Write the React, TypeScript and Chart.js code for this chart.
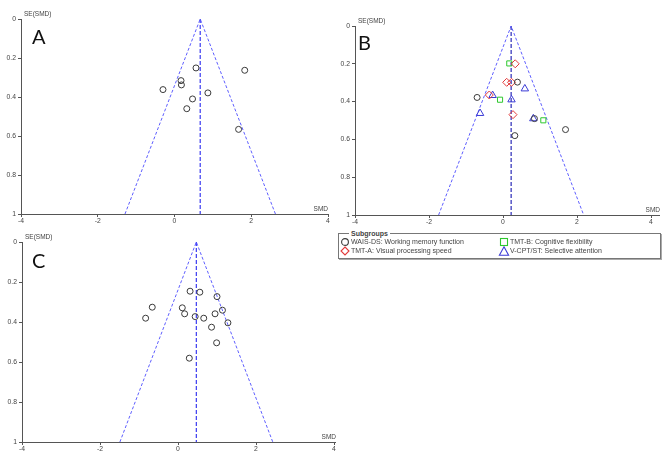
import React, { useEffect, useRef } from "react";
import { Chart, registerables } from "chart.js";

Chart.register(...registerables);

// ---------- data ----------
const xTickValues = [-4, -2, 0, 2, 4];
const yTickValues = [0, 0.2, 0.4, 0.6, 0.8, 1];
const yTickLabels = ["0", "0.2", "0.4", "0.6", "0.8", "1"];
const zCrit = 1.96;

// Panel A (single group, circles)
const aPooled = 0.67;
const aSmd = [0.56, 1.83, 0.17, 0.18, -0.3, 0.87, 0.47, 0.32, 1.67];
const aSe = [0.251, 0.263, 0.316, 0.338, 0.362, 0.379, 0.41, 0.46, 0.566];

// Panel B (subgroups)
const bPooled = 0.22;
const bWaisSmd = [0.39, -0.7, 0.85, 1.69, 0.32];
const bWaisSe = [0.297, 0.378, 0.49, 0.548, 0.58];
const bTmtASmd = [0.33, 0.1, 0.23, -0.37, 0.27];
const bTmtASe = [0.2, 0.298, 0.298, 0.365, 0.469];
const bTmtBSmd = [0.17, -0.08, 1.09];
const bTmtBSe = [0.198, 0.39, 0.499];
const bCptSmd = [0.59, -0.28, 0.23, -0.62, 0.82];
const bCptSe = [0.332, 0.367, 0.39, 0.462, 0.49];

// Panel C (single group, circles)
const cPooled = 0.47;
const cSmd = [0.31, 0.56, 1.0, -0.66, 0.11, 1.14, 0.17, 0.95, -0.83, 0.44, 0.66, 1.28, 0.86, 0.99, 0.29];
const cSe = [0.246, 0.251, 0.273, 0.326, 0.329, 0.341, 0.359, 0.359, 0.381, 0.373, 0.381, 0.404, 0.426, 0.504, 0.581];

const subgroupLabels = [
  "WAIS-DS: Working memory function",
  "TMT-A: Visual processing speed",
  "TMT-B: Cognitive flexibility",
  "V-CPT/ST: Selective attention",
];

// ---------- styles ----------
const FONT = "'Liberation Sans', Arial, sans-serif";
const AXIS_COLOR = "#555";
const TEXT_COLOR = "#444";
const FUNNEL_COLOR = "rgba(85,85,255,0.95)";
const CIRCLE_COLOR = "#3a3a3a";
const DIAMOND_COLOR = "#e23a3a";
const SQUARE_COLOR = "#2ec82e";
const TRIANGLE_COLOR = "#3b3bd6";

const toPts = (xs: number[], ys: number[]) => xs.map((x, i) => ({ x, y: ys[i] }));

function funnelDatasets(pooled: number, centerColor: string) {
  return [
    {
      type: "line" as const,
      data: [{ x: pooled - zCrit, y: 1 }, { x: pooled, y: 0 }, { x: pooled + zCrit, y: 1 }],
      borderColor: FUNNEL_COLOR,
      borderWidth: 1,
      borderDash: [3, 2],
      pointRadius: 0,
      fill: false,
      showLine: true,
      order: 10,
    },
    {
      type: "line" as const,
      data: [{ x: pooled, y: 0 }, { x: pooled, y: 1 }],
      borderColor: centerColor,
      borderWidth: 1.2,
      borderDash: [4, 2],
      pointRadius: 0,
      fill: false,
      showLine: true,
      order: 10,
    },
  ];
}

function markerDataset(pts: { x: number; y: number }[], style: string, color: string, radius: number) {
  return {
    type: "scatter" as const,
    data: pts,
    pointStyle: style,
    pointRadius: radius,
    pointHoverRadius: radius,
    pointBorderColor: color,
    pointBackgroundColor: "rgba(0,0,0,0)",
    pointBorderWidth: 1,
    showLine: false,
    order: 1,
  };
}

const decorPlugin = {
  id: "panelDecor",
  afterDraw(chart: any, _args: any, opts: any) {
    const { ctx, chartArea } = chart;
    const { left, right, top, bottom } = chartArea;
    ctx.save();
    if (opts.axisExtend) {
      ctx.strokeStyle = AXIS_COLOR;
      ctx.lineWidth = 1;
      ctx.beginPath();
      ctx.moveTo(right, Math.round(bottom) + 0.5);
      ctx.lineTo(right + opts.axisExtend, Math.round(bottom) + 0.5);
      ctx.stroke();
    }
    ctx.fillStyle = TEXT_COLOR;
    ctx.font = `6.5px ${FONT}`;
    ctx.textBaseline = "middle";
    ctx.textAlign = "left";
    ctx.fillText("SE(SMD)", left + 3, top - 5);
    ctx.textAlign = "right";
    ctx.textBaseline = "alphabetic";
    ctx.fillText("SMD", right + (opts.smdOffset || 0), bottom - 3);
    ctx.fillStyle = "#111";
    ctx.font = `20px Lato, 'Open Sans', sans-serif`;
    ctx.textAlign = "left";
    ctx.textBaseline = "alphabetic";
    ctx.fillText(opts.letter, left + opts.letterDx, top + opts.letterDy);
    ctx.restore();
  },
};

type PanelProps = {
  box: { left: number; top: number; width: number; height: number };
  area: { L: number; T: number; R: number; B: number };
  datasets: any[];
  letter: string;
  letterDx: number;
  letterDy: number;
  smdOffset: number;
  axisExtend: number;
};

const Y_W = 21;
const X_H = 12;

function Panel(p: PanelProps) {
  const ref = useRef<HTMLCanvasElement | null>(null);
  useEffect(() => {
    if (!ref.current) return;
    const { box, area } = p;
    const padding = {
      left: area.L - box.left - Y_W,
      top: area.T - box.top,
      right: box.left + box.width - area.R,
      bottom: box.top + box.height - area.B - X_H,
    };
    const chart = new Chart(ref.current, {
      type: "scatter",
      data: { datasets: p.datasets },
      plugins: [decorPlugin],
      options: {
        animation: false,
        responsive: false,
        maintainAspectRatio: false,
        layout: { padding },
        plugins: {
          legend: { display: false },
          tooltip: { enabled: false },
          panelDecor: {
            letter: p.letter,
            letterDx: p.letterDx,
            letterDy: p.letterDy,
            smdOffset: p.smdOffset,
            axisExtend: p.axisExtend,
          },
        } as any,
        scales: {
          x: {
            type: "linear",
            min: -4,
            max: 4,
            afterFit: (s: any) => {
              s.height = X_H;
            },
            afterBuildTicks: (s: any) => {
              s.ticks = xTickValues.map((v) => ({ value: v }));
            },
            ticks: {
              color: TEXT_COLOR,
              font: { family: FONT, size: 6.8 },
              padding: 0,
              maxRotation: 0,
              autoSkip: false,
              callback: (v: any) => String(v),
            },
            grid: { drawOnChartArea: false, drawTicks: true, tickLength: 3, color: AXIS_COLOR },
            border: { display: true, color: AXIS_COLOR, width: 1 },
          },
          y: {
            type: "linear",
            min: 0,
            max: 1,
            reverse: true,
            afterFit: (s: any) => {
              s.width = Y_W;
            },
            afterBuildTicks: (s: any) => {
              s.ticks = yTickValues.map((v) => ({ value: v }));
            },
            ticks: {
              color: TEXT_COLOR,
              font: { family: FONT, size: 6.8 },
              padding: 2,
              autoSkip: false,
              callback: (v: any) => {
                const i = yTickValues.findIndex((t) => Math.abs(t - v) < 1e-9);
                return i >= 0 ? yTickLabels[i] : "";
              },
            },
            grid: { drawOnChartArea: false, drawTicks: true, tickLength: 3, color: AXIS_COLOR },
            border: { display: true, color: AXIS_COLOR, width: 1 },
          },
        },
      } as any,
    });
    return () => chart.destroy();
  }, []);
  const { box } = p;
  return (
    <canvas
      ref={ref}
      width={box.width}
      height={box.height}
      style={{ position: "absolute", left: box.left, top: box.top, width: box.width, height: box.height }}
    />
  );
}

function Marker({ kind, color }: { kind: string; color: string }) {
  const common = { fill: "none", stroke: color, strokeWidth: 1.1 };
  let shape: any = null;
  if (kind === "circle") shape = <circle cx={5} cy={5} r={3.4} {...common} />;
  if (kind === "diamond") shape = <polygon points="5,1 9,5 5,9 1,5" {...common} />;
  if (kind === "square") shape = <rect x={1.5} y={1.5} width={7} height={7} {...common} />;
  if (kind === "triangle") shape = <polygon points="5,0.8 9.6,9.3 0.4,9.3" {...common} />;
  return (
    <svg width={10} height={10} style={{ position: "absolute", left: -5, top: -5, overflow: "visible" }}>
      {shape}
    </svg>
  );
}

function LegendItem({ x, y, kind, color, label }: { x: number; y: number; kind: string; color: string; label: string }) {
  return (
    <>
      <div style={{ position: "absolute", left: x, top: y, width: 0, height: 0 }}>
        <Marker kind={kind} color={color} />
      </div>
      <div
        style={{
          position: "absolute",
          left: x + 6.5,
          top: y - 5,
          height: 10,
          lineHeight: "10px",
          fontFamily: FONT,
          fontSize: 7,
          color: TEXT_COLOR,
          whiteSpace: "nowrap",
        }}
      >
        {label}
      </div>
    </>
  );
}

export default function App() {
  const datasetsA = [...funnelDatasets(aPooled, "#3a3af0"), markerDataset(toPts(aSmd, aSe), "circle", CIRCLE_COLOR, 3)];
  const datasetsB = [
    ...funnelDatasets(bPooled, "#2a2ab8"),
    markerDataset(toPts(bWaisSmd, bWaisSe), "circle", CIRCLE_COLOR, 3),
    markerDataset(toPts(bTmtASmd, bTmtASe), "rectRot", DIAMOND_COLOR, 4),
    markerDataset(toPts(bTmtBSmd, bTmtBSe), "rect", SQUARE_COLOR, 3.6),
    markerDataset(toPts(bCptSmd, bCptSe), "triangle", TRIANGLE_COLOR, 4.3),
  ];
  const datasetsC = [...funnelDatasets(cPooled, "#3a3af0"), markerDataset(toPts(cSmd, cSe), "circle", CIRCLE_COLOR, 3)];

  return (
    <div style={{ position: "absolute", left: 0, top: 0, width: 669, height: 456, background: "#fff", overflow: "hidden" }}>
      <Panel
        box={{ left: 0, top: 0, width: 335, height: 228 }}
        area={{ L: 21, T: 19, R: 328, B: 214 }}
        datasets={datasetsA}
        letter="A"
        letterDx={11}
        letterDy={25}
        smdOffset={0}
        axisExtend={0}
      />
      <Panel
        box={{ left: 332, top: 0, width: 337, height: 228 }}
        area={{ L: 355, T: 26, R: 651, B: 215 }}
        datasets={datasetsB}
        letter="B"
        letterDx={3}
        letterDy={24}
        smdOffset={9}
        axisExtend={9}
      />
      <Panel
        box={{ left: 0, top: 225, width: 345, height: 231 }}
        area={{ L: 22, T: 242, R: 334, B: 442 }}
        datasets={datasetsC}
        letter="C"
        letterDx={10}
        letterDy={26}
        smdOffset={2}
        axisExtend={2}
      />
      <div
        style={{
          position: "absolute",
          left: 338,
          top: 233,
          width: 321,
          height: 24,
          border: "1px solid #777",
          boxShadow: "1px 1px 0 #aaa",
        }}
      />
      <div
        style={{
          position: "absolute",
          left: 349,
          top: 229,
          padding: "0 2px",
          background: "#fff",
          fontFamily: FONT,
          fontSize: 7,
          fontWeight: "bold",
          lineHeight: "9px",
          color: TEXT_COLOR,
        }}
      >
        Subgroups
      </div>
      <LegendItem x={344.5} y={241.5} kind="circle" color={CIRCLE_COLOR} label={subgroupLabels[0]} />
      <LegendItem x={344.5} y={251} kind="diamond" color={DIAMOND_COLOR} label={subgroupLabels[1]} />
      <LegendItem x={503.5} y={241.5} kind="square" color={SQUARE_COLOR} label={subgroupLabels[2]} />
      <LegendItem x={503.5} y={250.5} kind="triangle" color={TRIANGLE_COLOR} label={subgroupLabels[3]} />
    </div>
  );
}
